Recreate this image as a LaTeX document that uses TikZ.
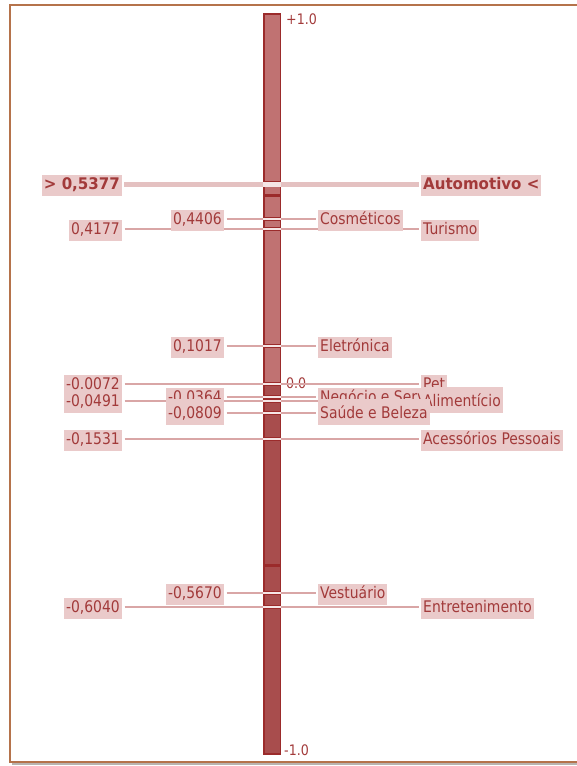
\documentclass[tikz,border=0pt]{standalone}
\usepackage{fontspec}
\setmainfont{DejaVu Sans}[FakeStretch=0.87, BoldFeatures={FakeStretch=0.94}]
\definecolor{framec}{HTML}{B5734B}
\definecolor{shadowc}{HTML}{B9B4B0}
\definecolor{barborder}{HTML}{9B2B2B}
\definecolor{barup}{HTML}{C07272}
\definecolor{bardown}{HTML}{A84D4D}
\definecolor{linec}{HTML}{D9A6A6}
\definecolor{gapc}{HTML}{F5E6E6}
\definecolor{boxc}{HTML}{EACACA}
\definecolor{txtc}{HTML}{A23A3A}
\pgfdeclarelayer{bg}
\pgfdeclarelayer{mid}
\pgfsetlayers{bg,mid,main}
\tikzset{
  lbl/.style={fill=boxc, text=txtc, inner xsep=2pt, inner ysep=3.5pt,
    text height=10.5pt, text depth=3.5pt, yshift=-1.5pt,
    font=\fontsize{16}{19}\selectfont},
  % boxes reaching higher above their line (they overlap the label above)
  tall/.style={text height=15.5pt, yshift=2.5pt},
  vleft/.style={lbl, anchor=east},
  nright/.style={lbl, anchor=west},
  scalelbl/.style={text=txtc, inner sep=0pt, anchor=west,
    font=\fontsize{14.5}{16}\selectfont},
  conn/.style={draw=linec, line width=1.4pt},
  thickconn/.style={draw=linec!70, line width=5pt},
  gapline/.style={draw=gapc, line width=2pt},
  thickgap/.style={draw=gapc, line width=5pt},
  barseg/.style={draw=barborder, line width=1.5pt},
}
\begin{document}
\begin{tikzpicture}[x=1pt,y=-1pt]
\useasboundingbox (0,0) rectangle (576,766);

% frame
\draw[shadowc, line width=1.2pt] (12,764) -- (580,764);
\draw[framec, line width=2pt] (580,5) -- (10,5) -- (10,762) -- (580,762);

% scale bar, one segment between neighbouring correlation marks
\begin{pgfonlayer}{bg}
\foreach \a/\b/\c in {14/182/barup, 186/195/barup, 196/218/barup, 220/228/barup,
    230/345/barup, 347/383/barup, 385/396/bardown, 398/400/bardown,
    402/412/bardown, 414/438/bardown, 440/565/bardown, 566/592/bardown,
    594/606/bardown, 608/754/bardown}
  \draw[barseg, fill=\c] (263.75,\a) rectangle (280.25,\b);
\node[scalelbl] (top) at (286,19) {+1.0};
\node[scalelbl] (bot) at (284,750) {-1.0};
\node[scalelbl] (zero) at (286,383) {0.0};
\end{pgfonlayer}

% labels, from the highest coefficient down
\node[vleft] (vauto) at (122,184) {\textbf{> 0,5377}};
\node[nright] (nauto) at (421,184) {\textbf{Automotivo <}};
\node[vleft] (vcos) at (224,219) {0,4406};
\node[nright] (ncos) at (318,219) {Cosméticos};
\node[vleft] (vtur) at (122,229) {0,4177};
\node[nright] (ntur) at (421,229) {Turismo};
\node[vleft] (vele) at (224,346) {0,1017};
\node[nright] (nele) at (318,346) {Eletrónica};
\node[vleft] (vpet) at (122,384) {-0.0072};
\node[nright] (npet) at (421,384) {Pet};
\node[vleft] (vneg) at (224,397) {-0,0364};
\node[nright] (nneg) at (318,397) {Negócio e Serv};
\node[vleft] (vali) at (122,401) {-0,0491};
\node[nright, tall] (nali) at (421,401) {Alimentício};
\node[vleft, tall] (vsau) at (224,413) {-0,0809};
\node[nright, tall] (nsau) at (318,413) {Saúde e Beleza};
\node[vleft] (vace) at (122,439) {-0,1531};
\node[nright] (nace) at (421,439) {Acessórios Pessoais};
\node[vleft] (vves) at (224,593) {-0,5670};
\node[nright] (nves) at (318,593) {Vestuário};
\node[vleft] (vent) at (122,607) {-0,6040};
\node[nright] (nent) at (421,607) {Entretenimento};

% connectors: label -> bar edge, across the bar, bar edge -> label
\begin{pgfonlayer}{mid}
\foreach \k/\y in {auto/184, cos/219, tur/229, ele/346, pet/384, neg/397,
    ali/401, sau/413, ace/439, ves/593, ent/607} {
  \coordinate (\k-l) at (263,\y);
  \coordinate (\k-r) at (281,\y);
}
\draw[thickconn, shorten <=2pt] (vauto.east |- auto-l) -- (auto-l);
\draw[thickgap] (auto-l) -- (auto-r);
\draw[thickconn, shorten >=2pt] (auto-r) -- (nauto.west |- auto-r);
\foreach \k in {cos, tur, ele, pet, neg, ali, sau, ace, ves, ent} {
  \draw[conn, shorten <=2.5pt] (v\k.east |- \k-l) -- (\k-l);
  \draw[gapline] (\k-l) -- (\k-r);
  \draw[conn, shorten >=2.5pt] (\k-r) -- (n\k.west |- \k-r);
}
\end{pgfonlayer}
\end{tikzpicture}
\end{document}
